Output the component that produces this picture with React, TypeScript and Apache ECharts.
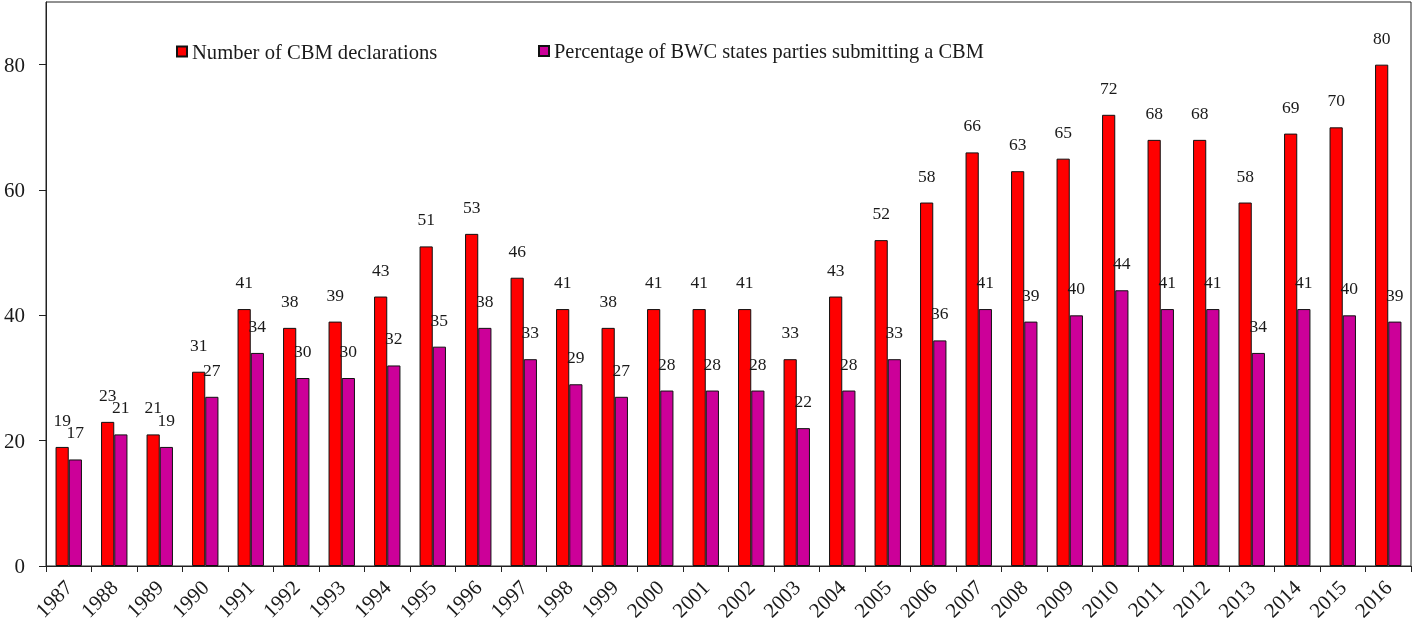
import React, { useEffect, useRef } from "react";
import * as echarts from "echarts";

const years = [
  "1987", "1988", "1989", "1990", "1991", "1992", "1993", "1994", "1995", "1996",
  "1997", "1998", "1999", "2000", "2001", "2002", "2003", "2004", "2005", "2006",
  "2007", "2008", "2009", "2010", "2011", "2012", "2013", "2014", "2015", "2016",
];
const cbmDeclarations = [
  19, 23, 21, 31, 41, 38, 39, 43, 51, 53,
  46, 41, 38, 41, 41, 41, 33, 43, 52, 58,
  66, 63, 65, 72, 68, 68, 58, 69, 70, 80,
];
const percentSubmitting = [
  17, 21, 19, 27, 34, 30, 30, 32, 35, 38,
  33, 29, 27, 28, 28, 28, 22, 28, 33, 36,
  41, 39, 40, 44, 41, 41, 34, 41, 40, 39,
];
const yTicks = [0, 20, 40, 60, 80];

const FONT = "'Liberation Serif', 'DejaVu Serif', serif";
const TEXT = "#1a1a1a";

export default function App() {
  const ref = useRef<HTMLDivElement>(null);
  useEffect(() => {
    if (!ref.current) return;
    const chart = echarts.init(ref.current, null, { renderer: "svg" });
    const labelStyle = {
      show: true,
      position: "top" as const,
      distance: 18,
      color: TEXT,
      fontFamily: FONT,
      fontSize: 17.5,
    };
    chart.setOption({
      animation: false,
      textStyle: { fontFamily: FONT },
      legend: [
        {
          data: ["Number of CBM declarations"],
          left: 171,
          top: 36,
          itemWidth: 10,
          itemHeight: 10,
          icon: "rect",
          textStyle: { fontFamily: FONT, fontSize: 20.6, color: TEXT },
        },
        {
          data: ["Percentage of BWC states parties submitting a CBM"],
          left: 533,
          top: 36,
          itemWidth: 10,
          itemHeight: 10,
          icon: "rect",
          textStyle: { fontFamily: FONT, fontSize: 20.4, color: TEXT },
        },
      ],
      grid: {
        left: 46,
        right: 1,
        top: 2,
        bottom: 62,
        show: true,
        borderColor: "#222",
        borderWidth: 1,
        backgroundColor: "transparent",
      },
      xAxis: {
        type: "category",
        data: years,
        axisLine: { lineStyle: { color: "#222", width: 1 } },
        axisTick: { show: true, length: 6, lineStyle: { color: "#222" } },
        axisLabel: {
          rotate: 45,
          margin: 18,
          color: TEXT,
          fontFamily: FONT,
          fontSize: 21,
          interval: 0,
        },
      },
      yAxis: {
        type: "value",
        min: 0,
        max: 90,
        interval: 10,
        splitLine: { show: false },
        axisLine: { show: true, lineStyle: { color: "#222", width: 1 } },
        axisTick: {
          show: true,
          length: 7,
          lineStyle: { color: "#222" },
          customValues: yTicks,
        },
        axisLabel: {
          margin: 21,
          color: TEXT,
          fontFamily: FONT,
          fontSize: 21,
          customValues: yTicks,
        },
      },
      series: [
        {
          name: "Number of CBM declarations",
          type: "bar",
          data: cbmDeclarations,
          barGap: "0%",
          barCategoryGap: "42%",
          itemStyle: { color: "#FF0000", borderColor: "#111", borderWidth: 1 },
          label: labelStyle,
        },
        {
          name: "Percentage of BWC states parties submitting a CBM",
          type: "bar",
          data: percentSubmitting,
          barGap: "0%",
          barCategoryGap: "42%",
          itemStyle: { color: "#CC0099", borderColor: "#111", borderWidth: 1 },
          label: labelStyle,
        },
      ],
    });
    return () => chart.dispose();
  }, []);
  return (
    <div
      ref={ref}
      style={{ position: "fixed", left: 0, top: 0, width: 1412, height: 628 }}
    />
  );
}
